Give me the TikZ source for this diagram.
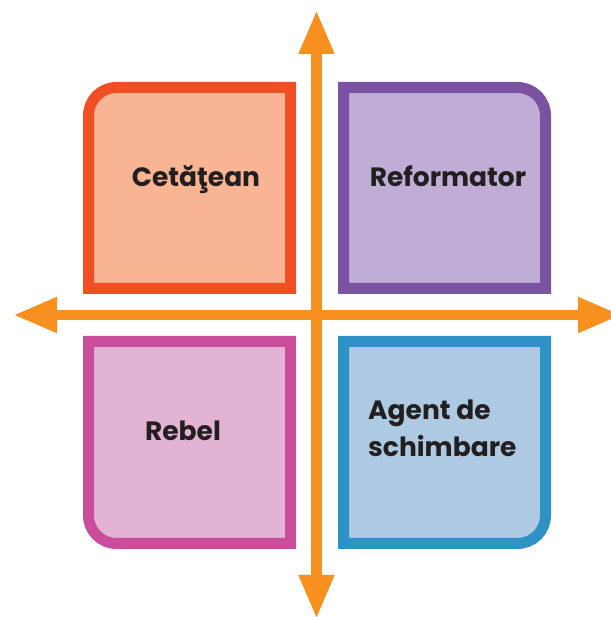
\documentclass[tikz,border=0pt]{standalone}
\usepackage{fontspec}
\setmainfont{Poppins}
\usetikzlibrary{arrows.meta}
\definecolor{axisor}{HTML}{F7901E}
\definecolor{redb}{HTML}{F04E23}
\definecolor{redf}{HTML}{F9B493}
\definecolor{purb}{HTML}{7B52A1}
\definecolor{purf}{HTML}{BFADD6}
\definecolor{blub}{HTML}{2E92C6}
\definecolor{bluf}{HTML}{AECAE2}
\definecolor{pinb}{HTML}{C94D9B}
\definecolor{pinf}{HTML}{E3B3D4}
\definecolor{txt}{HTML}{231F20}
\tikzset{
  quad/.style={line width=11bp, line join=miter},
  axisline/.style={draw=axisor, line width=10.5bp, -{Triangle[length=44bp,width=33bp]}},
  lbl/.style={font=\fontsize{26.5bp}{37bp}\selectfont\bfseries, text=txt, inner sep=0pt}
}
\begin{document}
\begin{tikzpicture}[x=1bp,y=1bp]
\useasboundingbox (0,0) rectangle (611,617);
% top-left
\draw[quad, draw=redb, fill=redf] (290.5,328.5) -- (88.5,328.5) -- (88.5,501.5) arc[start angle=180,end angle=90,radius=28bp] -- (290.5,529.5) -- cycle;
% top-right
\draw[quad, draw=purb, fill=purf] (343.5,328.5) -- (343.5,529.5) -- (517.5,529.5) arc[start angle=90,end angle=0,radius=28bp] -- (545.5,328.5) -- cycle;
% bottom-right
\draw[quad, draw=blub, fill=bluf] (343.5,73.5) -- (343.5,275.5) -- (545.5,275.5) -- (545.5,101.5) arc[start angle=0,end angle=-90,radius=28bp] -- cycle;
% bottom-left
\draw[quad, draw=pinb, fill=pinf] (88.5,275.5) -- (290.5,275.5) -- (290.5,73.5) -- (116.5,73.5) arc[start angle=270,end angle=180,radius=28bp] -- cycle;
% axes
\coordinate (ctr) at (316.5,302);
\coordinate (west) at (13,302);
\coordinate (east) at (622,302);
\coordinate (north) at (316.5,607);
\coordinate (south) at (316.5,-2);
\draw[axisline] (ctr) -- (west);
\draw[axisline] (ctr) -- (east);
\draw[axisline] (ctr) -- (north);
\draw[axisline] (ctr) -- (south);
% labels
\node[lbl, anchor=base] (cet) at (196,430) {Cetăţean};
\node[lbl, anchor=base] (ref) at (448,430) {Reformator};
\node[lbl, anchor=base] (reb) at (183,176) {Rebel};
\node[lbl, anchor=base west, align=left] (agt) at (368,160) {Agent de\\schimbare};
\end{tikzpicture}
\end{document}
